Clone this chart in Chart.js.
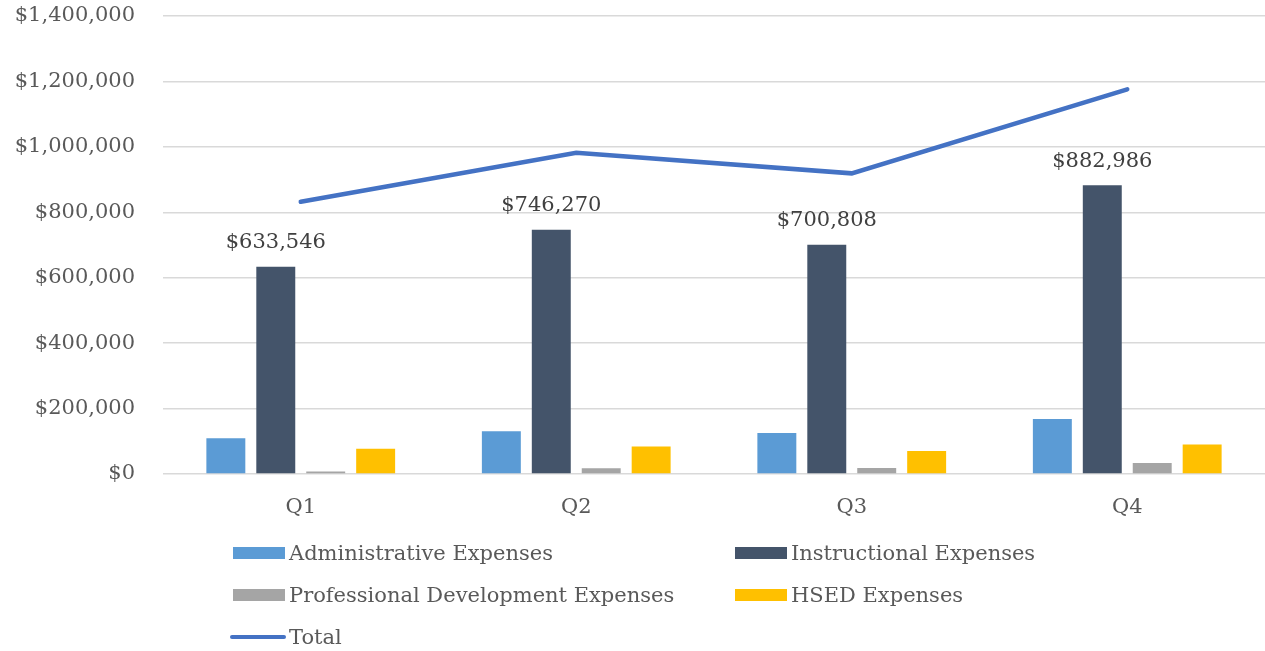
<!DOCTYPE html>
<html lang="en">
<head>
<meta charset="UTF-8">
<title>Quarterly Expenses</title>
<script src="https://cdn.jsdelivr.net/npm/chart.js"></script>
<style>
  body { margin: 0; background: #fff; }
  #wrap { position: relative; width: 1265px; height: 651px; }
  #legend {
    position: absolute; left: 233px; top: 532px;
    display: grid; grid-template-columns: 502px auto;
  }
  .item {
    display: flex; align-items: center; height: 42px;
    font: 21px "DejaVu Serif", serif; color: #595959; white-space: nowrap;
  }
  .swatch { width: 52px; height: 12px; margin-right: 4px; }
  .swatch.line { height: 4px; border-radius: 2px; width: 56px; margin-left: -3px; margin-right: 3px; }
</style>
</head>
<body>
<div id="wrap">
  <canvas id="chart" width="1265" height="651"></canvas>
  <div id="legend"></div>
</div>
<script>
const quarters = ["Q1", "Q2", "Q3", "Q4"];
const adminExpenses = [109000, 131000, 125000, 168000];
const instructionalExpenses = [633546, 746270, 700808, 882986];
const profDevExpenses = [8000, 17500, 18500, 34000];
const hsedExpenses = [77500, 84000, 70500, 90000];
const totalExpenses = [832000, 982000, 919000, 1176000];

const FONT = '"DejaVu Serif", serif';
const money = v => '$' + Number(v).toLocaleString('en-US');

// value labels above the instructional bars
const barLabels = {
  id: 'barLabels',
  afterDatasetsDraw(chart) {
    const ctx = chart.ctx;
    const meta = chart.getDatasetMeta(1);
    ctx.save();
    ctx.font = '21px ' + FONT;
    ctx.fillStyle = '#404040';
    ctx.textAlign = 'center';
    ctx.textBaseline = 'middle';
    meta.data.forEach((bar, i) => {
      ctx.fillText(money(instructionalExpenses[i]), bar.x, bar.y - 24);
    });
    ctx.restore();
  }
};

const chart = new Chart(document.getElementById('chart'), {
  type: 'bar',
  data: {
    labels: quarters,
    datasets: [
      { label: 'Administrative Expenses', data: adminExpenses, backgroundColor: '#5B9BD5' },
      { label: 'Instructional Expenses', data: instructionalExpenses, backgroundColor: '#44546A' },
      { label: 'Professional Development Expenses', data: profDevExpenses, backgroundColor: '#A5A5A5' },
      { label: 'HSED Expenses', data: hsedExpenses, backgroundColor: '#FFC000' },
      {
        type: 'line', label: 'Total', data: totalExpenses,
        borderColor: '#4472C4', backgroundColor: '#4472C4', borderWidth: 4.5,
        pointRadius: 0, tension: 0, borderCapStyle: 'round', order: -1
      }
    ]
  },
  options: {
    responsive: false,
    animation: false,
    categoryPercentage: 0.725,
    barPercentage: 0.78,
    layout: { padding: { top: 0, right: 0, bottom: 127, left: 0 } },
    plugins: {
      legend: { display: false },
      tooltip: { enabled: false }
    },
    scales: {
      x: {
        afterFit: scale => { scale.height = 50; },
        grid: { display: false },
        border: { display: false },
        ticks: { color: '#595959', font: { family: FONT, size: 21 }, padding: 13 }
      },
      y: {
        min: 0,
        max: 1400000,
        afterFit: scale => {
          scale.width = 163;
          scale.paddingTop = 16;
          scale.paddingBottom = 0;
        },
        grid: { color: '#D9D9D9', lineWidth: 1.5, drawTicks: false },
        border: { display: false },
        ticks: {
          stepSize: 200000,
          padding: 28,
          color: '#595959',
          font: { family: FONT, size: 21 },
          callback: v => money(v)
        }
      }
    }
  },
  plugins: [barLabels]
});

// legend in two columns, built from the datasets
const legend = document.getElementById('legend');
chart.data.datasets.forEach(ds => {
  const item = document.createElement('div');
  item.className = 'item';
  const sw = document.createElement('span');
  sw.className = 'swatch' + (ds.type === 'line' ? ' line' : '');
  sw.style.background = ds.type === 'line' ? ds.borderColor : ds.backgroundColor;
  item.appendChild(sw);
  item.appendChild(document.createTextNode(ds.label));
  legend.appendChild(item);
});
</script>
</body>
</html>
